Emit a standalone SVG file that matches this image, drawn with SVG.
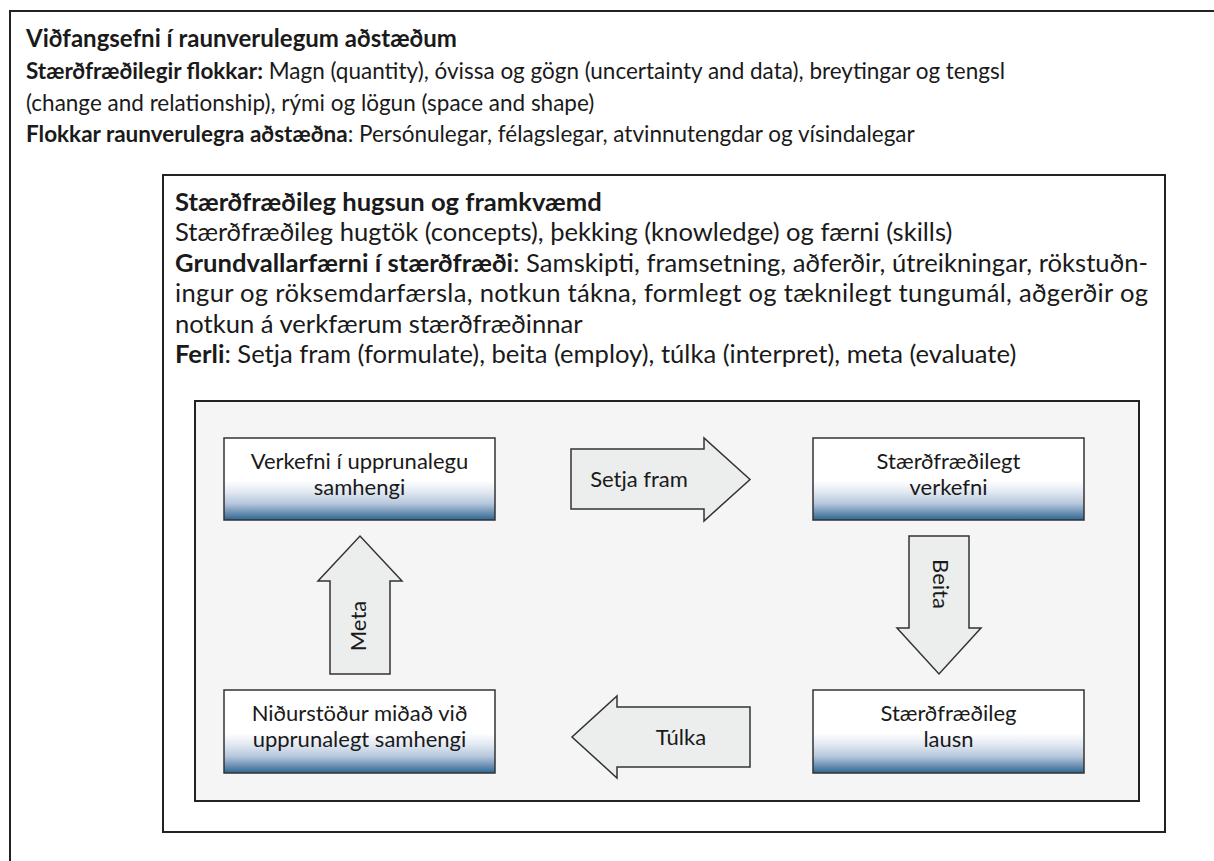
<svg xmlns="http://www.w3.org/2000/svg" width="1214" height="861" viewBox="0 0 1214 861">
<defs>
<style>
text{font-family:Lato,"Open Sans","Liberation Sans",sans-serif;fill:#1a1a1a}
.t{font-size:24px;font-weight:bold}
.o{font-size:22.5px}
.m{font-size:25.6px}
.n{font-size:22px;text-anchor:middle}
.b{font-weight:bold}
.frame{fill:none;stroke:#222;stroke-width:2}
.node{fill:url(#g);stroke:#333;stroke-width:1.5}
.arr{fill:#eceeed;stroke:#333;stroke-width:1.5;stroke-linejoin:miter}
</style>
<linearGradient id="g" x1="0" y1="0" x2="0" y2="1">
<stop offset="0" stop-color="#ffffff"/>
<stop offset="0.52" stop-color="#ffffff"/>
<stop offset="0.65" stop-color="#e4eaf3"/>
<stop offset="0.8" stop-color="#b6c7dc"/>
<stop offset="0.91" stop-color="#6d91b4"/>
<stop offset="1" stop-color="#2b6792"/>
</linearGradient>
</defs>
<rect width="1214" height="861" fill="#ffffff"/>
<g id="outer">
<rect class="frame" x="10" y="11" width="1230" height="880"/>
<text class="t" x="26" y="47">Viðfangsefni í raunverulegum aðstæðum</text>
<text class="o" x="26" y="79"><tspan class="b">Stærðfræðilegir flokkar:</tspan> Magn (quantity), óvissa og gögn (uncertainty and data), breytingar og tengsl</text>
<text class="o" x="26" y="111">(change and relationship), rými og lögun (space and shape)</text>
<text class="o" x="26" y="142"><tspan class="b">Flokkar raunverulegra aðstæðna</tspan>: Persónulegar, félagslegar, atvinnutengdar og vísindalegar</text>
</g>
<g id="middle">
<rect class="frame" x="163" y="175" width="1002" height="657"/>
<text class="m b" x="175" y="211">Stærðfræðileg hugsun og framkvæmd</text>
<text class="m" x="175" y="241">Stærðfræðileg hugtök (concepts), þekking (knowledge) og færni (skills)</text>
<text class="m" x="175" y="272" textLength="973" lengthAdjust="spacing"><tspan class="b">Grundvallarfærni í stærðfræði</tspan>: Samskipti, framsetning, aðferðir, útreikningar, rökstuðn-</text>
<text class="m" x="175" y="302" textLength="973" lengthAdjust="spacing">ingur og röksemdarfærsla, notkun tákna, formlegt og tæknilegt tungumál, aðgerðir og</text>
<text class="m" x="175" y="333">notkun á verkfærum stærðfræðinnar</text>
<text class="m" x="175" y="363"><tspan class="b">Ferli</tspan>: Setja fram (formulate), beita (employ), túlka (interpret), meta (evaluate)</text>
</g>
<g id="process">
<rect x="195" y="401" width="944" height="400" fill="#f5f5f5" stroke="#222" stroke-width="2"/>
</g>
<g id="node-verkefni">
<rect class="node" x="224" y="438" width="271" height="82"/>
<text class="n" x="359.5" y="469">Verkefni í upprunalegu</text>
<text class="n" x="359.5" y="495">samhengi</text>
</g>
<g id="node-staerdfraedilegt-verkefni">
<rect class="node" x="813" y="438" width="271" height="82"/>
<text class="n" x="948.5" y="469">Stærðfræðilegt</text>
<text class="n" x="948.5" y="495">verkefni</text>
</g>
<g id="node-nidurstodur">
<rect class="node" x="224" y="690" width="271" height="83"/>
<text class="n" x="359.5" y="721">Niðurstöður miðað við</text>
<text class="n" x="359.5" y="747">upprunalegt samhengi</text>
</g>
<g id="node-lausn">
<rect class="node" x="813" y="690" width="271" height="83"/>
<text class="n" x="948.5" y="721">Stærðfræðileg</text>
<text class="n" x="948.5" y="747">lausn</text>
</g>
<g id="connectors">
<g id="arrow-setja-fram">
<polygon class="arr" points="571,449 704,449 704,438 750,479.5 704,521 704,509 571,509"/>
<text class="n" x="639" y="487">Setja fram</text>
</g>
<g id="arrow-beita">
<polygon class="arr" points="909,536 969,536 969,628 981,628 939,674 897,628 909,628"/>
<text class="n" transform="translate(933,584) rotate(90)" x="0" y="0">Beita</text>
</g>
<g id="arrow-tulka">
<polygon class="arr" points="750,707 750,767 617,767 617,778 572,737 617,696 617,707"/>
<text class="n" x="681" y="745">Túlka</text>
</g>
<g id="arrow-meta">
<polygon class="arr" points="330,674 390,674 390,581 402,581 360,536 318,581 330,581"/>
<text class="n" transform="translate(366,626) rotate(-90)" x="0" y="0">Meta</text>
</g>
</g>
</svg>
